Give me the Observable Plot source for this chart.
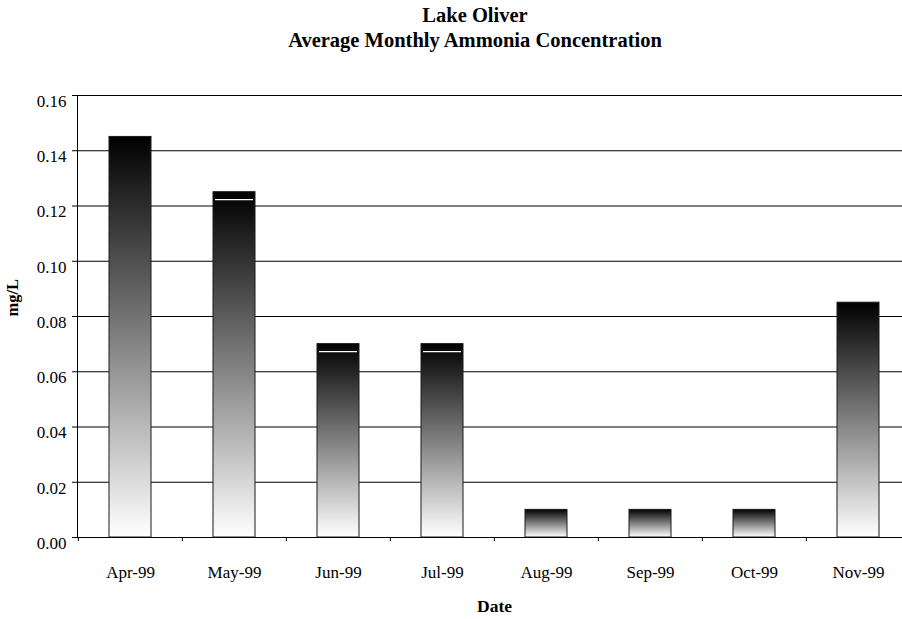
<!DOCTYPE html>
<html><head><meta charset="utf-8">
<script src="https://cdn.jsdelivr.net/npm/d3@7"></script>
<script src="https://cdn.jsdelivr.net/npm/@observablehq/plot@0.6"></script>
<style>
body{margin:0;background:#fff;}
#wrap{position:relative;width:902px;height:619px;font-family:"Liberation Serif","Times New Roman",serif;}
.t{position:absolute;left:475px;transform:translateX(-50%);white-space:nowrap;font-weight:bold;font-size:20.5px;line-height:24px;color:#000;z-index:2;}
#chart{position:absolute;left:0;top:0;}
</style></head><body>
<div id="wrap">
  <div class="t" id="t1" style="top:3px"></div>
  <div class="t" id="t2" style="top:27.5px"></div>
  <div id="chart"></div>
</div>
<script>
const titleLines = ["Lake Oliver", "Average Monthly Ammonia Concentration"];
const months = ["Apr-99", "May-99", "Jun-99", "Jul-99", "Aug-99", "Sep-99", "Oct-99", "Nov-99"];
const ammonia = [0.145, 0.125, 0.07, 0.07, 0.01, 0.01, 0.01, 0.085];
const glintMonths = ["May-99", "Jun-99", "Jul-99"];
const yTicks = [0, 0.02, 0.04, 0.06, 0.08, 0.10, 0.12, 0.14, 0.16];
const xTitle = "Date";
const yTitle = "mg/L";

document.getElementById("t1").textContent = titleLines[0];
document.getElementById("t2").textContent = titleLines[1];

const data = months.map((m, i) => ({month: m, value: ammonia[i]}));
const glints = data.filter(d => glintMonths.includes(d.month));
const xRange = [77, 911];
const step = (xRange[1] - xRange[0]) / months.length;
const W = 902, H = 619, mL = 77, mR = 0, mT = 95, mB = 82;
const font = '"Liberation Serif","Times New Roman",serif';

const chart = Plot.plot({
  width: W, height: H,
  marginTop: mT, marginBottom: mB, marginLeft: mL, marginRight: mR,
  style: {fontFamily: font, fontSize: "17px", color: "#000", background: "transparent", overflow: "visible"},
  x: {domain: months, range: xRange, paddingInner: 0.6, paddingOuter: 0.3, axis: null},
  y: {domain: [0, 0.16], axis: null},
  marks: [
    Plot.ruleY(yTicks, {stroke: "#000", strokeWidth: 1}),
    Plot.barY(data, {x: "month", y: "value", fill: "url(#barGrad)", stroke: "#1a1a1a", strokeWidth: 1}),
    Plot.tickY(glints, {x: "month", y: "value", dy: 7.5, stroke: "#fff", strokeWidth: 1.2, insetLeft: 2, insetRight: 2}),
    Plot.ruleY([0], {stroke: "#000", strokeWidth: 1}),
    Plot.frame({anchor: "left", stroke: "#000", strokeWidth: 1}),
    Plot.axisY({ticks: yTicks, tickSize: 5, tickFormat: () => "", label: null, stroke: "#000"}),
    Plot.axisY({ticks: yTicks, tickSize: 0, tickPadding: 11, dy: 6, tickFormat: d3.format(".2f"), label: null, fontSize: 17}),
    Plot.axisX({tickSize: 0, tickPadding: 28, label: null, fontSize: 17}),
    Plot.axisX({tickSize: 4, tickFormat: () => "", dx: -step / 2, label: null, stroke: "#000"}),
    Plot.text([xTitle], {text: d => d, frameAnchor: "bottom", lineAnchor: "bottom",
      dx: (xRange[0] + xRange[1]) / 2 - (mL + W - mR) / 2, dy: 74, fontWeight: "bold", fontSize: 17.5}),
    Plot.text([yTitle], {text: d => d, frameAnchor: "left", rotate: -90, lineAnchor: "bottom",
      dx: -60, fontWeight: "bold", fontSize: 16.5})
  ]
});

const ns = "http://www.w3.org/2000/svg";
const defs = document.createElementNS(ns, "defs");
const grad = document.createElementNS(ns, "linearGradient");
grad.setAttribute("id", "barGrad");
grad.setAttribute("x1", "0"); grad.setAttribute("y1", "0");
grad.setAttribute("x2", "0"); grad.setAttribute("y2", "1");
[["0", "#000000"], ["1", "#ffffff"]].forEach(([o, c]) => {
  const s = document.createElementNS(ns, "stop");
  s.setAttribute("offset", o); s.setAttribute("stop-color", c);
  grad.appendChild(s);
});
defs.appendChild(grad);
chart.insertBefore(defs, chart.firstChild);
document.getElementById("chart").appendChild(chart);
</script>
</body></html>
